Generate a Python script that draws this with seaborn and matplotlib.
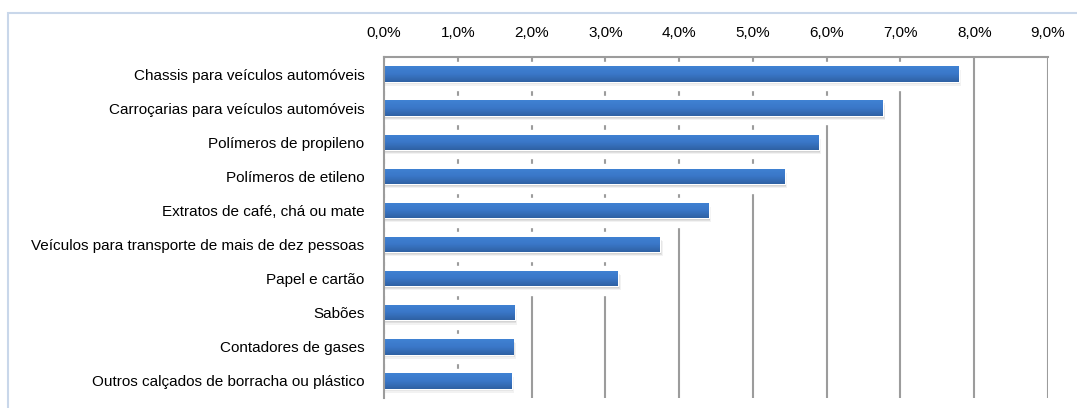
"""plot.py - horizontal bar chart of export shares"""

import matplotlib.pyplot as plt
import numpy as np
import pandas as pd
import seaborn as sns
from matplotlib.patches import Rectangle
from matplotlib.ticker import FuncFormatter

categories = [
    "Chassis para veículos automóveis",
    "Carroçarias para veículos automóveis",
    "Polímeros de propileno",
    "Polímeros de etileno",
    "Extratos de café, chá ou mate",
    "Veículos para transporte de mais de dez pessoas",
    "Papel e cartão",
    "Sabões",
    "Contadores de gases",
    "Outros calçados de borracha ou plástico",
]
shares = [7.79, 6.76, 5.89, 5.43, 4.40, 3.74, 3.17, 1.77, 1.75, 1.73]
xticks = [0, 1, 2, 3, 4, 5, 6, 7, 8, 9]

W, H = 1077, 408


def main():
    df = pd.DataFrame({"produto": categories, "share": shares})

    sns.set_theme(style="white")
    plt.rcParams["font.family"] = ["Liberation Sans", "DejaVu Sans"]

    fig = plt.figure(figsize=(W / 100, H / 100), dpi=100)
    left, right, top, bottom = 384, 1048, 57, 398
    ax = fig.add_axes([left / W, 1 - bottom / H, (right - left) / W, (bottom - top) / H])

    # outer chart frame
    fig.patches.append(
        Rectangle((8 / W, -0.05), 1.2, 1 - 13 / H + 0.05, transform=fig.transFigure,
                  fill=False, edgecolor="#c9d7ea", linewidth=1.5, zorder=0)
    )

    sns.barplot(data=df, x="share", y="produto", orient="h", color="#3a76c6",
                width=0.45, ax=ax, zorder=3, saturation=1)

    # white bands that hide the gridlines behind each row (Excel look)
    ypos = np.arange(len(categories))
    ax.barh(ypos + 0.055, df["share"], height=0.84, color="white", zorder=1)

    # soft shadow under bars
    for i, v in enumerate(shares):
        for k, a in [(0.12, 0.07), (0.08, 0.10), (0.05, 0.14), (0.025, 0.18)]:
            ax.add_patch(Rectangle((0, i - 0.225 + k), v + k * 0.3, 0.45, color="#4a4a4a",
                                   alpha=a, lw=0, zorder=2))

    # gradient fill on bars
    grad = np.linspace(0, 1, 64).reshape(-1, 1)
    cmap = sns.blend_palette(["#4082d3", "#3a77c8", "#2f61a3"], as_cmap=True)
    for p in list(ax.patches):
        if p.get_zorder() != 3:
            continue
        x0, y0 = p.get_x(), p.get_y()
        w, h = p.get_width(), p.get_height()
        im = ax.imshow(grad, cmap=cmap, aspect="auto", extent=[x0, x0 + w, y0 + h, y0],
                       zorder=4, interpolation="bilinear")
        im.set_clip_path(p)
    ax.set_xlim(0, 9)
    ax.set_ylim(len(categories) - 0.5, -0.5)

    ax.set_axisbelow(True)
    ax.xaxis.grid(True, color="#9c9c9c", linewidth=1.5)
    ax.yaxis.grid(False)
    ax.set_xticks(xticks)
    ax.xaxis.set_major_formatter(FuncFormatter(lambda x, _: f"{x:.1f}%".replace(".", ",")))
    ax.xaxis.tick_top()
    ax.tick_params(axis="x", length=0, pad=12, labelsize=11, colors="black")
    ax.tick_params(axis="y", length=0, pad=14, labelsize=11, colors="black")
    ax.set_xlabel("")
    ax.set_ylabel("")

    for side in ["left", "top"]:
        ax.spines[side].set_visible(True)
        ax.spines[side].set_color("#9c9c9c")
        ax.spines[side].set_linewidth(1.5)
    ax.spines["right"].set_visible(False)
    ax.spines["bottom"].set_visible(False)
    ax.spines["left"].set_zorder(5)

    fig.savefig("out.png", dpi=100)


if __name__ == "__main__":
    main()
